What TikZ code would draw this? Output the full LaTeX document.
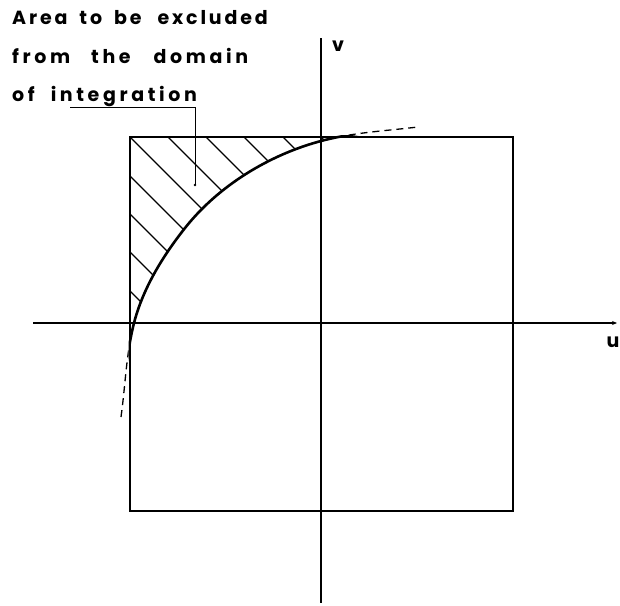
\documentclass[tikz,border=0pt]{standalone}
\usepackage{fontspec}
\setmainfont{Poppins}[LetterSpace=19]
\usetikzlibrary{arrows.meta}
\newcommand{\gp}[1]{\hspace*{#1pt}}
\begin{document}
\begin{tikzpicture}[x=1pt,y=-1pt,
  lbl/.style={font=\fontsize{19}{21}\selectfont\bfseries, inner sep=0pt, anchor=base west},
  axis/.style={line width=1.3pt},
  frame/.style={line width=1.8pt},
  curve/.style={line width=2.6pt},
  dcurve/.style={line width=1.3pt, dash pattern=on 7pt off 5pt},
  hatch/.style={line width=1.3pt},
  leader/.style={line width=1pt}]
\useasboundingbox (0,0) rectangle (620,605);
% hatching
\begin{scope}
  \clip (130,137) rectangle (513,511);
  \clip (121,417) .. controls (125.4,385.7) and (126.1,353.6) .. (134,323)
        .. controls (143,288.25) and (162.7,256.2) .. (185,228)
        .. controls (218.4,185.8) and (269,154.9) .. (321,141)
        .. controls (352.6,132.5) and (385.5,130.9) .. (418,127)
        -- (418,100) -- (100,100) -- (100,417) -- cycle;
  \foreach \c in {-199,-161,-122,-84,-46,-7,31,69,107,146,184}
    \draw[hatch] (\c+100,100) -- (\c+420,420);
\end{scope}
% square
\draw[frame] (130,137) rectangle (513,511);
% axes
\draw[axis,-{Stealth[length=5pt,width=4pt]}] (33,323) -- (617,323);
\draw[axis] (321,38) -- (321,603);
\node[lbl, anchor=base east] (u) at (619.5,347) {u};
\node[lbl] (v) at (332,51) {v};
% curve: solid inside the square, dashed outside
\begin{scope}
  \clip (128.5,135.5) rectangle (514,512);
  \draw[curve] (121,417) .. controls (125.4,385.7) and (126.1,353.6) .. (134,323)
        .. controls (143,288.25) and (162.7,256.2) .. (185,228)
        .. controls (218.4,185.8) and (269,154.9) .. (321,141)
        .. controls (352.6,132.5) and (385.5,130.9) .. (418,127);
\end{scope}
\begin{scope}[even odd rule]
  \clip (0,0) rectangle (620,605) (128.5,135.5) rectangle (514,512);
  \draw[dcurve] (121,417) .. controls (125.4,385.7) and (126.1,353.6) .. (134,323)
        .. controls (143,288.25) and (162.7,256.2) .. (185,228)
        .. controls (218.4,185.8) and (269,154.9) .. (321,141)
        .. controls (352.6,132.5) and (385.5,130.9) .. (418,127);
\end{scope}
% label
\node[lbl] (l1) at (12,24) {\addfontfeature{LetterSpace=15}Area\gp{12}to\gp{12}be\gp{16}excluded};
\node[lbl] (l2) at (12,63) {from\gp{21}the\gp{23}domain};
\node[lbl] (l3) at (12,101) {of\gp{16}integration};
\coordinate (lead) at (195,185);
\draw[leader] (70,107) -| (lead);
\fill (lead) circle (1.3pt);
\end{tikzpicture}
\end{document}
